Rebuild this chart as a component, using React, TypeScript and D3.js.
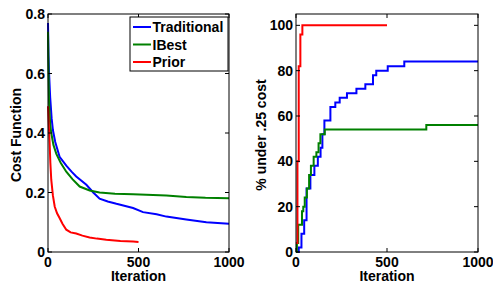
import React from "react";
import * as d3 from "d3";

// left panel: cost function vs iteration
const costTraditional: [number, number][] = [
  [0, 0.77], [3, 0.66], [6, 0.6], [12, 0.52], [20, 0.45], [27, 0.41], [40, 0.37],
  [64, 0.32], [101, 0.29], [130, 0.27], [156, 0.254], [212, 0.226], [250, 0.2],
  [285, 0.179], [330, 0.17], [378, 0.162], [470, 0.148], [525, 0.134], [600, 0.127],
  [654, 0.119], [764, 0.109], [875, 0.1], [1000, 0.095],
];
const costIBest: [number, number][] = [
  [0, 0.74], [3, 0.6], [6, 0.5], [12, 0.43], [18, 0.4], [30, 0.36], [46, 0.33],
  [70, 0.3], [101, 0.27], [135, 0.245], [175, 0.22], [230, 0.207], [285, 0.2],
  [370, 0.196], [470, 0.194], [654, 0.19], [764, 0.185], [870, 0.182], [1000, 0.181],
];
const costPrior: [number, number][] = [
  [0, 0.49], [4, 0.43], [9, 0.366], [13, 0.3], [18, 0.243], [27, 0.19], [37, 0.153],
  [50, 0.13], [64, 0.114], [80, 0.095], [101, 0.075], [125, 0.066], [156, 0.062],
  [190, 0.055], [230, 0.049], [270, 0.045], [322, 0.041], [400, 0.037], [470, 0.035],
  [500, 0.034],
];

// right panel: % under .25 cost (step series)
const pctTraditional: [number, number][] = [
  [0, 0], [15, 2], [30, 8], [45, 14], [58, 28], [79, 34], [101, 38], [120, 42],
  [135, 46], [145, 52], [156, 58], [189, 64], [216, 66], [240, 68], [280, 70],
  [332, 72], [381, 74], [423, 78], [441, 80], [504, 82], [595, 84], [1000, 84],
];
const pctIBest: [number, number][] = [
  [0, 0], [5, 4], [12, 12], [33, 18], [40, 20], [48, 24], [60, 28], [72, 34],
  [82, 38], [97, 42], [112, 44], [124, 48], [134, 52], [158, 54], [716, 56], [1000, 56],
];
const pctPrior: [number, number][] = [
  [0, 4], [8, 40], [15, 82], [24, 96], [35, 100], [500, 100],
];

const seriesNames = ["Traditional", "IBest", "Prior"];
const seriesColors = ["#0000ff", "#008000", "#ff0000"];

const xTicks = [0, 500, 1000];
const costTicks = [0, 0.2, 0.4, 0.6, 0.8];
const pctTicks = [0, 20, 40, 60, 80, 100];

const FONT = "'Liberation Sans', Arial, sans-serif";
const FS = 14;

const Panel = ({ left, right, yDomain, yTicks, yFormat, ylabel, ylabelX, series, curve, legend }) => {
  const top = 14;
  const bottom = 252;
  const x = d3.scaleLinear().domain([0, 1000]).range([left, right]);
  const y = d3.scaleLinear().domain(yDomain).range([bottom, top]);
  const line = d3
    .line<[number, number]>()
    .x((d) => x(d[0]))
    .y((d) => y(d[1]))
    .curve(curve);
  const tl = 4;
  return (
    <g>
      {series.map((s, i) => (
        <path key={i} d={line(s) || ""} fill="none" stroke={seriesColors[i]} strokeWidth={2} />
      ))}
      <rect x={left} y={top} width={right - left} height={bottom - top} fill="none" stroke="#000" strokeWidth={1} />
      {xTicks.map((t) => (
        <g key={"x" + t}>
          <line x1={x(t)} x2={x(t)} y1={bottom} y2={bottom - tl} stroke="#000" />
          <line x1={x(t)} x2={x(t)} y1={top} y2={top + tl} stroke="#000" />
          <text x={x(t)} y={267} textAnchor="middle" fontSize={FS} fontWeight="bold" fontFamily={FONT}>
            {t}
          </text>
        </g>
      ))}
      {yTicks.map((t) => (
        <g key={"y" + t}>
          <line x1={left} x2={left + tl} y1={y(t)} y2={y(t)} stroke="#000" />
          <line x1={right} x2={right - tl} y1={y(t)} y2={y(t)} stroke="#000" />
          <text x={left - 3} y={y(t) + 5} textAnchor="end" fontSize={FS} fontWeight="bold" fontFamily={FONT}>
            {yFormat(t)}
          </text>
        </g>
      ))}
      <text x={(left + right) / 2} y={281} textAnchor="middle" fontSize={FS} fontWeight="bold" fontFamily={FONT}>
        Iteration
      </text>
      <text
        transform={`translate(${ylabelX},${(top + bottom) / 2 + 2}) rotate(-90)`}
        textAnchor="middle"
        fontSize={FS}
        fontWeight="bold"
        fontFamily={FONT}
      >
        {ylabel}
      </text>
      {legend && (
        <g>
          <rect x={130} y={17} width={98} height={54} fill="#fff" stroke="#000" strokeWidth={1} />
          {seriesNames.map((n, i) => (
            <g key={n}>
              <line x1={133} x2={151} y1={27 + i * 17.5} y2={27 + i * 17.5} stroke={seriesColors[i]} strokeWidth={2} />
              <text x={152.5} y={32 + i * 17.5} fontSize={FS} fontWeight="bold" fontFamily={FONT}>
                {n}
              </text>
            </g>
          ))}
        </g>
      )}
    </g>
  );
};

export default function App() {
  return (
    <svg width={493} height={281} style={{ position: "absolute", left: 0, top: 0, background: "#fff" }}>
      <Panel
        left={48}
        right={229}
        yDomain={[0, 0.8]}
        yTicks={costTicks}
        yFormat={(t) => (t === 0 ? "0" : d3.format(".1f")(t))}
        ylabel="Cost Function"
        ylabelX={21}
        series={[costTraditional, costIBest, costPrior]}
        curve={d3.curveLinear}
        legend={true}
      />
      <Panel
        left={296}
        right={478}
        yDomain={[0, 105]}
        yTicks={pctTicks}
        yFormat={(t) => String(t)}
        ylabel="% under .25 cost"
        ylabelX={266}
        series={[pctTraditional, pctIBest, pctPrior]}
        curve={d3.curveStepAfter}
        legend={false}
      />
    </svg>
  );
}
